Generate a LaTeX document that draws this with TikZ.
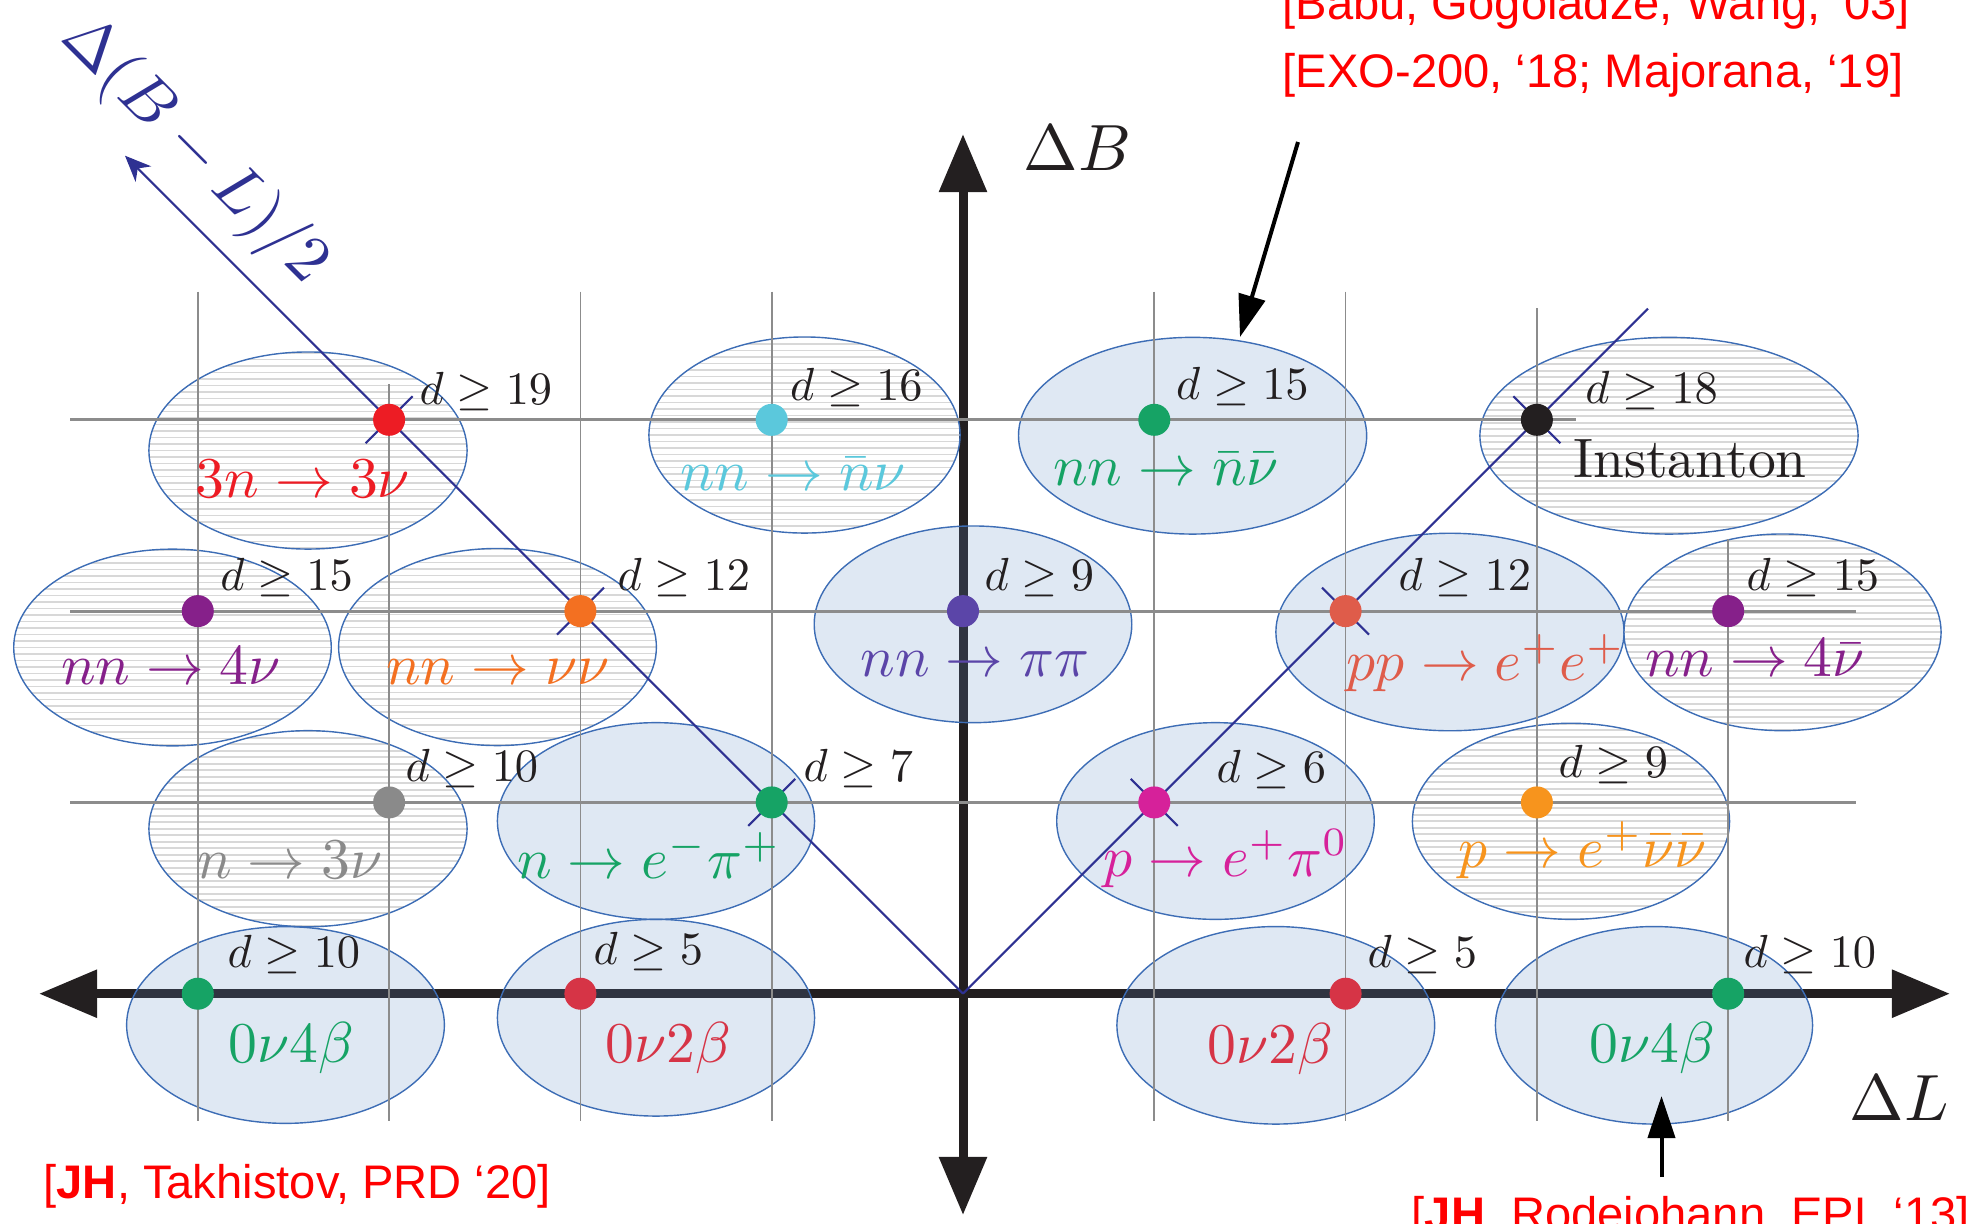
\RequirePackage{fix-cm}
\documentclass[tikz,border=0pt]{standalone}
\usepackage{fontspec}
\newfontfamily\reffont{Liberation Sans}
\usetikzlibrary{arrows.meta,shapes.geometric,calc}
\definecolor{axcol}{HTML}{231F20}
\definecolor{gridcol}{HTML}{8C8C8C}
\definecolor{diagcol}{HTML}{2E3192}
\definecolor{ellborder}{HTML}{3D6DB5}
\definecolor{ellfill}{RGB}{96,140,197}
\definecolor{hatchcol}{HTML}{D8D8D8}
\definecolor{cRed}{HTML}{ED1C24}
\definecolor{cCyan}{HTML}{5BC8DC}
\definecolor{cGreen}{HTML}{16A365}
\definecolor{cBlack}{HTML}{231F20}
\definecolor{cPurple}{HTML}{86208A}
\definecolor{cOrange}{HTML}{F37021}
\definecolor{cIndigo}{HTML}{5B45A8}
\definecolor{cCoral}{HTML}{DF5C4A}
\definecolor{cGray}{HTML}{8A8A8A}
\definecolor{cMagenta}{HTML}{D6219A}
\definecolor{cAmber}{HTML}{F7941D}
\definecolor{cCrimson}{HTML}{D63446}
\definecolor{refred}{HTML}{FF0000}
\newcommand{\dtext}[1]{\scalebox{1.32}{$d \geq #1$}}
\newcommand{\rtext}[1]{\scalebox{1.64}{#1}}
\newcommand{\atext}[1]{\scalebox{1.86}{#1}}
\tikzset{
  axisline/.style={line width=0.09cm, draw=axcol,
    {Triangle[length=0.58cm,width=0.46cm]}-{Triangle[length=0.58cm,width=0.46cm]}},
  blueell/.style={ellipse, draw=ellborder, line width=0.4pt, fill=ellfill,
    fill opacity=0.2, draw opacity=1, inner sep=0pt},
  hatchell/.style={ellipse, draw=ellborder, line width=0.4pt, inner sep=0pt,
    path picture={\foreach \k in {-16,...,16}
      \draw[hatchcol, line width=0.5pt] ($(path picture bounding box.center)+(-200,\k*6.5)$) -- ++(400,0);}},
  gridv/.style={draw=gridcol, line width=0.5pt},
  gridh/.style={draw=gridcol, line width=0.8pt},
  diagl/.style={draw=diagcol, line width=0.6pt},
  pdot/.style={circle, fill=#1, inner sep=0pt, minimum size=0.32cm},
  dlab/.style={anchor=base west, inner sep=0pt, text=axcol, font=\fontsize{10}{12}\selectfont},
  rlab/.style={anchor=base, inner sep=0pt, text=#1, font=\fontsize{10}{12}\selectfont},
  axlab/.style={inner sep=0pt, font=\fontsize{10}{12}\selectfont},
  reftext/.style={anchor=base west, inner sep=0pt, text=refred, font=\reffont\fontsize{13.4}{16}\selectfont},
  refarrow/.style={draw=black, line width=0.04cm, -{Triangle[length=0.42cm,width=0.27cm]}},
}
\begin{document}
\begin{tikzpicture}[x=0.01cm,y=-0.01cm]
\useasboundingbox (0,0) rectangle (1968,1223);
\clip (0,0) rectangle (1968,1223);

% ---------- axes ----------
\coordinate (axL) at (39,993.7);
\coordinate (axR) at (1950,993.7);
\coordinate (axT) at (963,134);
\coordinate (axB) at (963,1215);
\draw[axisline] (axL) -- (axR);
\draw[axisline] (axB) -- (axT);

% ---------- ellipses ----------
\node[hatchell, minimum width=3.18cm, minimum height=1.97cm] (e1) at (308,450.5) {};
\node[hatchell, minimum width=3.11cm, minimum height=1.96cm] (e2) at (804.5,435) {};
\node[blueell,  minimum width=3.48cm, minimum height=1.966cm] (e3) at (1192.6,435.7) {};
\node[hatchell, minimum width=3.78cm, minimum height=1.966cm] (e4) at (1669,435.7) {};
\node[hatchell, minimum width=3.174cm, minimum height=1.966cm] (e5) at (172.5,647.5) {};
\node[hatchell, minimum width=3.176cm, minimum height=1.97cm] (e6) at (497.5,647) {};
\node[blueell,  minimum width=3.174cm, minimum height=1.966cm] (e7) at (973,624.3) {};
\node[blueell,  minimum width=3.48cm, minimum height=1.974cm] (e8) at (1450,632) {};
\node[hatchell, minimum width=3.17cm, minimum height=1.966cm] (e9) at (1782.5,632.3) {};
\node[hatchell, minimum width=3.18cm, minimum height=1.96cm] (e10) at (308,828.7) {};
\node[blueell,  minimum width=3.17cm, minimum height=1.966cm] (e11) at (656,821) {};
\node[blueell,  minimum width=3.174cm, minimum height=1.966cm] (e12) at (1215.5,821) {};
\node[hatchell, minimum width=3.17cm, minimum height=1.96cm] (e13) at (1571,821.3) {};
\node[blueell,  minimum width=3.176cm, minimum height=1.966cm] (e14) at (285.5,1025) {};
\node[blueell,  minimum width=3.17cm, minimum height=1.966cm] (e15) at (656,1017.7) {};
\node[blueell,  minimum width=3.176cm, minimum height=1.974cm] (e16) at (1275.8,1025.3) {};
\node[blueell,  minimum width=3.17cm, minimum height=1.974cm] (e17) at (1654,1025.3) {};

% ---------- grid ----------
\foreach \x/\t in {197.8/291.7, 389.1/384, 580.4/291.7, 771.7/291.7,
                   1154.3/291.7, 1345.6/291.7, 1536.9/308, 1728.2/539}
  \draw[gridv] (\x,\t) -- (\x,1121);
\draw[gridh] (70,419.8) -- (1576,419.8);
\draw[gridh] (70,611.1) -- (1856,611.1);
\draw[gridh] (70,802.4) -- (1856,802.4);

% ---------- diagonals ----------
\coordinate (O) at (963,993.7);
\coordinate (Ltip) at (125,155.7);
\coordinate (Rend) at (1648,308.7);
\draw[diagl, -{Stealth[length=0.26cm,width=0.22cm,inset=0.08cm]}] (O) -- (Ltip);
\draw[diagl] (O) -- (Rend);

% point coordinates
\coordinate (q1) at (389.1,419.8);
\coordinate (q2) at (771.7,419.8);
\coordinate (q3) at (1154.3,419.8);
\coordinate (q4) at (1536.9,419.8);
\coordinate (q5) at (197.8,611.1);
\coordinate (q6) at (580.4,611.1);
\coordinate (q7) at (963,611.1);
\coordinate (q8) at (1345.6,611.1);
\coordinate (q9) at (1728.2,611.1);
\coordinate (q10) at (389.1,802.4);
\coordinate (q11) at (771.7,802.4);
\coordinate (q12) at (1154.3,802.4);
\coordinate (q13) at (1536.9,802.4);
\coordinate (q14) at (197.8,993.7);
\coordinate (q15) at (580.4,993.7);
\coordinate (q16) at (1345.6,993.7);
\coordinate (q17) at (1728.2,993.7);

% crosses on the diagonals
\foreach \q in {q1,q6,q11}
  \draw[diagl] ($(\q)+(-23.5,23.5)$) -- ($(\q)+(23.5,-23.5)$);
\foreach \q in {q4,q8,q12}
  \draw[diagl] ($(\q)+(-23.5,-23.5)$) -- ($(\q)+(23.5,23.5)$);

% ---------- dots ----------
\node[pdot=cRed] (p1) at (q1) {};
\node[pdot=cCyan] (p2) at (q2) {};
\node[pdot=cGreen] (p3) at (q3) {};
\node[pdot=cBlack] (p4) at (q4) {};
\node[pdot=cPurple] (p5) at (q5) {};
\node[pdot=cOrange] (p6) at (q6) {};
\node[pdot=cIndigo] (p7) at (q7) {};
\node[pdot=cCoral] (p8) at (q8) {};
\node[pdot=cPurple] (p9) at (q9) {};
\node[pdot=cGray] (p10) at (q10) {};
\node[pdot=cGreen] (p11) at (q11) {};
\node[pdot=cMagenta] (p12) at (q12) {};
\node[pdot=cAmber] (p13) at (q13) {};
\node[pdot=cGreen] (p14) at (q14) {};
\node[pdot=cCrimson] (p15) at (q15) {};
\node[pdot=cCrimson] (p16) at (q16) {};
\node[pdot=cGreen] (p17) at (q17) {};

% ---------- d labels ----------
\node[dlab] (d1) at (419,404) {\dtext{19}};
\node[dlab] (d2) at (789.5,400) {\dtext{16}};
\node[dlab] (d3) at (1175.5,399) {\dtext{15}};
\node[dlab] (d4) at (1584.6,403) {\dtext{18}};
\node[dlab] (d5) at (219.6,590) {\dtext{15}};
\node[dlab] (d6) at (617,590) {\dtext{12}};
\node[dlab] (d7) at (984,590) {\dtext{9}};
\node[dlab] (d8) at (1398,590) {\dtext{12}};
\node[dlab] (d9) at (1746,590) {\dtext{15}};
\node[dlab] (d10) at (405,781) {\dtext{10}};
\node[dlab] (d11) at (803,781) {\dtext{7}};
\node[dlab] (d12) at (1216,782) {\dtext{6}};
\node[dlab] (d13) at (1558,777) {\dtext{9}};
\node[dlab] (d14) at (227,967) {\dtext{10}};
\node[dlab] (d15) at (593,964) {\dtext{5}};
\node[dlab] (d16) at (1367,967) {\dtext{5}};
\node[dlab] (d17) at (1743,967) {\dtext{10}};

% ---------- reaction labels ----------
\node[rlab=cRed] (r1) at (303,497) {\rtext{$3n \to 3\nu$}};
\node[rlab=cCyan] (r2) at (793,490) {\rtext{$nn \to \bar{n}\nu$}};
\node[rlab=cGreen] (r3) at (1166,485) {\rtext{$nn \to \bar{n}\bar{\nu}$}};
\node[rlab=cBlack] (r4) at (1690,477) {\scalebox{1.58}{$\mathrm{Instanton}$}};
\node[rlab=cPurple] (r5) at (171,684) {\rtext{$nn \to 4\nu$}};
\node[rlab=cOrange] (r6) at (498,684) {\rtext{$nn \to \nu\nu$}};
\node[rlab=cIndigo] (r7) at (975,676) {\rtext{$nn \to \pi\pi$}};
\node[rlab=cCoral] (r8) at (1486,680) {\rtext{$pp \to e^+e^+$}};
\node[rlab=cPurple] (r9) at (1755,676) {\rtext{$nn \to 4\bar{\nu}$}};
\node[rlab=cGray] (r10) at (290,878) {\rtext{$n \to 3\nu$}};
\node[rlab=cGreen] (r11) at (649,878) {\rtext{$n \to e^-\pi^+$}};
\node[rlab=cMagenta] (r12) at (1226,876) {\rtext{$p \to e^+\pi^0$}};
\node[rlab=cAmber] (r13) at (1583,867) {\rtext{$p \to e^+\bar{\nu}\bar{\nu}$}};
\node[rlab=cGreen] (r14) at (291,1062) {\rtext{$0\nu4\beta$}};
\node[rlab=cCrimson] (r15) at (668,1062) {\rtext{$0\nu2\beta$}};
\node[rlab=cCrimson] (r16) at (1270,1063) {\rtext{$0\nu2\beta$}};
\node[rlab=cGreen] (r17) at (1652,1062) {\rtext{$0\nu4\beta$}};

% ---------- axis labels ----------
\node[axlab, anchor=base west, text=axcol] (labB) at (1023,170) {\atext{$\Delta B$}};
\node[axlab, anchor=base west, text=axcol] (labL) at (1849,1120) {\atext{$\Delta L$}};
\node[axlab, text=diagcol, rotate=-45] (labBL) at (194,151) {\atext{$\Delta(B-L)/2$}};

% ---------- references ----------
\node[reftext] (ref1) at (1282,19) {[Babu, Gogoladze, Wang, ‘03]};
\node[reftext] (ref2) at (1282,87.5) {[EXO-200, ‘18; Majorana, ‘19]};
\node[reftext] (ref3) at (43,1198) {[\textbf{JH}, Takhistov, PRD ‘20]};
\node[reftext] (ref4) at (1411,1230) {[\textbf{JH}, Rodejohann, EPL ‘13]};
\coordinate (a1s) at (1298,142);
\coordinate (a1e) at (1240,337);
\coordinate (a2s) at (1661.5,1177);
\coordinate (a2e) at (1661.5,1096);
\draw[refarrow] (a1s) -- (a1e);
\draw[refarrow] (a2s) -- (a2e);
\end{tikzpicture}
\end{document}
